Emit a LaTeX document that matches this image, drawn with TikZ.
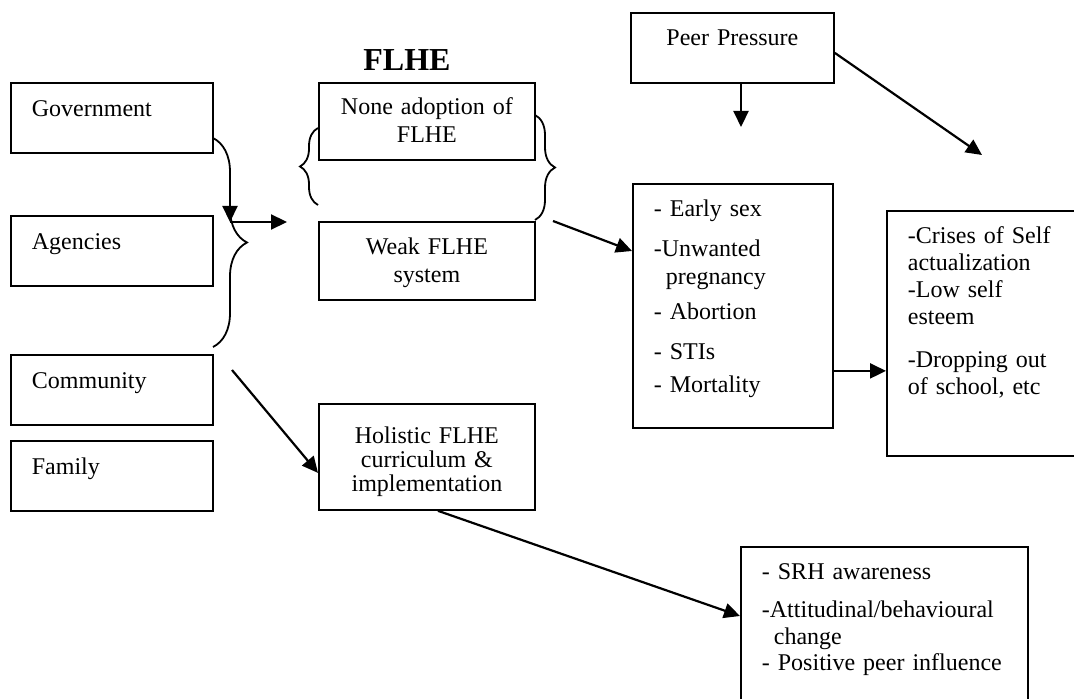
\documentclass[tikz,border=0pt]{standalone}
\usepackage{fontspec}
\setmainfont{Liberation Serif}
\usetikzlibrary{arrows.meta,decorations.pathreplacing}

\tikzset{
  box/.style={draw, line width=0.9pt, anchor=north west, inner xsep=10.5pt, inner ysep=0pt,
    font=\fontsize{12}{13.8}\selectfont},
  arr/.style={-{Triangle[length=8pt,width=7.5pt]}, line width=1.1pt},
  brc/.style={decorate, decoration={brace, amplitude=#1}, line width=0.9pt}
}

\begin{document}
\begin{tikzpicture}[x=0.5pt,y=-0.5pt]
\useasboundingbox (0,0) rectangle (1074,699);
% who is responsible
\foreach \n/\t/\y in {gov/Government/82, agen/Agencies/215, comm/Community/354, fam/Family/440} {
  \node[box, text width=80pt, text height=17pt, text depth=18pt] (\n) at (10,\y) {\t};
}
\draw[brc=17pt] (213,138) -- (213,347);

% FLHE column
\node[font=\fontsize{16}{19}\selectfont\bfseries, anchor=base] (flhe) at (407,71) {FLHE};
\node[box, text width=87pt, text height=16pt, text depth=22.5pt, align=center,
  font=\fontsize{12}{14}\selectfont] (none) at (318,82) {None adoption of\\FLHE};
\node[box, text width=87pt, text height=16.5pt, text depth=22.5pt, align=center] (weak) at (318,221) {Weak FLHE\\system};
\node[box, text width=87pt, text height=20pt, text depth=33pt, align=center,
  font=\fontsize{12}{12}\selectfont] (holi) at (318,403) {Holistic FLHE\\curriculum \&\\implementation};
\draw[brc=9pt] (318,205) -- (318,128);
\draw[brc=10pt] (535,115) -- (535,220);

% outcomes
\node[box, text width=80.5pt, text height=16.5pt, text depth=18.5pt, align=center] (peer) at (630,12) {Peer Pressure};
\node[box, text width=79pt, text height=16.5pt, text depth=105.5pt, align=left] (early) at (632,183)
  {- Early sex\\[6pt] -Unwanted\\ \hspace*{6pt}pregnancy\\[4pt] - Abortion\\[6pt] - STIs\\[3pt] - Mortality};
\node[box, text width=79pt, text height=16.5pt, text depth=106pt, align=left,
  font=\fontsize{12}{13.5}\selectfont] (crises) at (886,210)
  {-Crises of Self\\ actualization\\ -Low self\\ esteem\\[8pt] -Dropping out\\ of school, etc};
\node[box, text width=122.5pt, text height=16.5pt, text depth=70.5pt, align=left,
  font=\fontsize{12}{13.3}\selectfont] (srh) at (740,546)
  {- SRH awareness\\[5.5pt] -Attitudinal/behavioural\\ \hspace*{6pt}change\\ - Positive peer influence};

% connectors
\coordinate (spine) at (230,180);
\coordinate (join) at (230,222);
\coordinate (toflhe) at (287,222);
\coordinate (weakout) at (553,221);
\coordinate (commout) at (232,370);
\coordinate (peerdown) at (741,127);
\coordinate (peerdiag) at (982,155);
\coordinate (crisesin) at ([yshift=-18.75pt]crises.west);
\draw[arr] (spine) -- (join);
\draw[arr] (join) -- (toflhe);
\draw[arr] (weakout) -- ([yshift=-34pt]early.north west);
\draw[arr] (crisesin -| early.east) -- (crisesin);
\draw[arr] (peerdown |- peer.south) -- (peerdown);
\draw[arr] ([yshift=-2.5pt]peer.east) -- (peerdiag);
\draw[arr] (commout) -- ([yshift=-8pt]holi.west);
\draw[arr] ([xshift=5.5pt]holi.south) -- ([yshift=-35pt]srh.north west);
\end{tikzpicture}
\end{document}
